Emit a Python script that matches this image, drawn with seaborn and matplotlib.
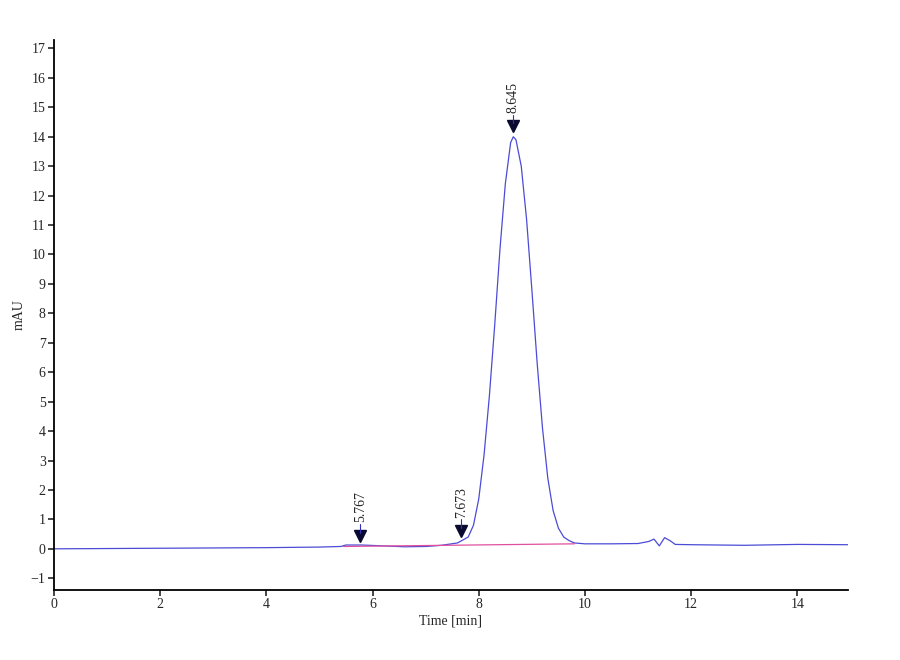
import matplotlib
matplotlib.use('Agg')
import matplotlib.pyplot as plt
import seaborn as sb

# chromatogram trace
time = [0, 1, 2, 3, 4, 5, 5.4, 5.5, 5.8, 6.2, 6.6, 7.0, 7.3, 7.6, 7.8, 7.9, 8.0, 8.1, 8.2,
        8.3, 8.4, 8.5, 8.6, 8.65, 8.7, 8.8, 8.9, 9.0, 9.1, 9.2, 9.3, 9.4, 9.5, 9.6, 9.7,
        9.8, 10.0, 10.5, 11.0, 11.2, 11.3, 11.4, 11.5, 11.6, 11.7, 12.0, 13.0, 14.0, 14.95]
signal = [0.0, 0.01, 0.02, 0.03, 0.04, 0.06, 0.08, 0.13, 0.13, 0.1, 0.07, 0.08, 0.12, 0.2,
          0.4, 0.8, 1.7, 3.2, 5.2, 7.6, 10.2, 12.4, 13.8, 14.0, 13.9, 13.0, 11.2, 8.8, 6.3,
          4.1, 2.4, 1.3, 0.7, 0.4, 0.28, 0.2, 0.17, 0.17, 0.18, 0.25, 0.33, 0.1, 0.38, 0.28,
          0.15, 0.14, 0.12, 0.15, 0.14]

base_t = [5.45, 9.8]
base_y = [0.08, 0.17]

peaks = [5.767, 7.673, 8.645]
peak_marks = [0.35, 0.5, 14.25]

sb.set_style('ticks')
plt.rcParams['font.family'] = ['Liberation Serif', 'DejaVu Serif']

fig = plt.figure(figsize=(9, 6.6), dpi=100)
ax = fig.add_axes([0.06, 0.106, 0.882, 0.834])
sb.lineplot(x=time, y=signal, color='#4b4bd6', linewidth=0.9, ax=ax)
sb.lineplot(x=base_t, y=base_y, color='#e050a0', linewidth=0.9, ax=ax)

for t, m in zip(peaks, peak_marks):
    ax.plot([t], [m + 0.1], marker='v', color='#0a0a30', markersize=9)
    ax.plot([t, t], [m + 0.2, m + 0.5], color='#3030c0', linewidth=0.8)
    ax.text(t, m + 0.55, '%.3f' % t, rotation=90, ha='center', va='bottom', fontsize=10)

ax.set_xlim(0, 14.95)
ax.set_ylim(-1.4, 17.3)
ax.set_xticks(range(0, 15, 2))
ax.set_yticks(range(-1, 18))
ax.set_xlabel('Time [min]', fontsize=10, labelpad=2)
ax.set_ylabel('mAU', fontsize=10)
ax.tick_params(labelsize=10, length=4, width=1.2, pad=2)
for s in ['left', 'bottom']:
    ax.spines[s].set_linewidth(1.3)
    ax.spines[s].set_color('black')
sb.despine(ax=ax)

plt.savefig('out.png')
